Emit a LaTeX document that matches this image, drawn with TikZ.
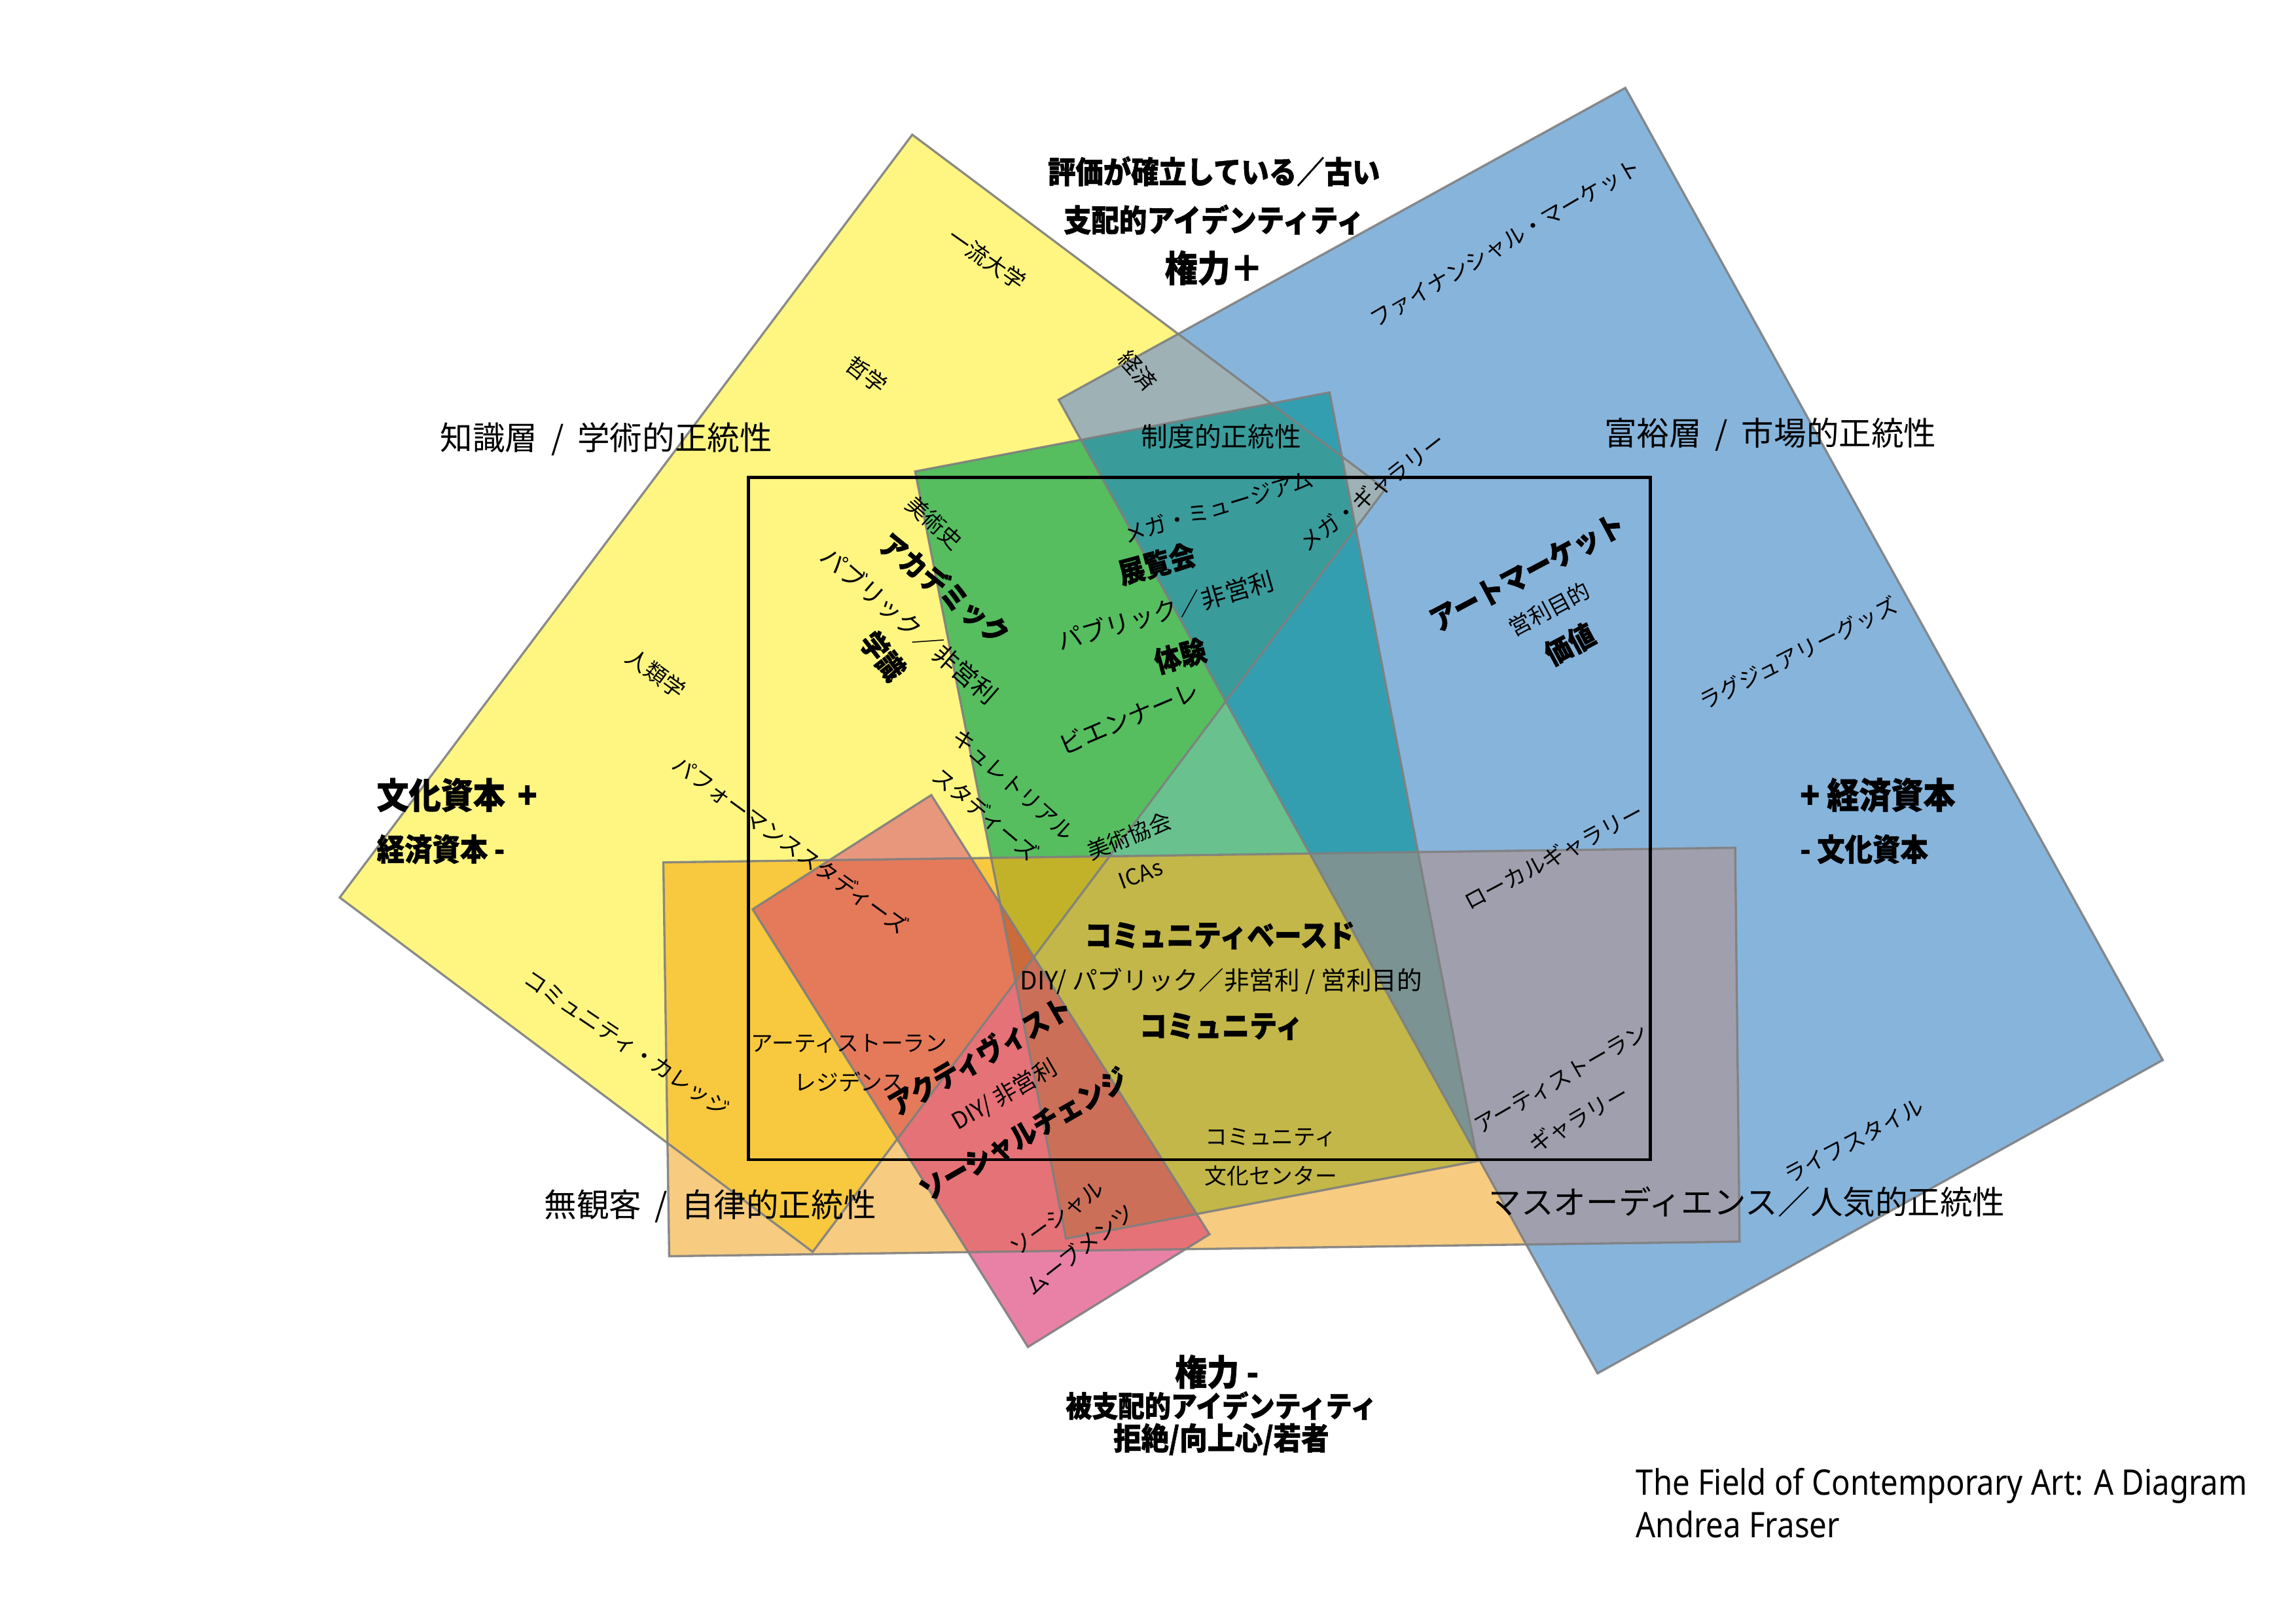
\documentclass[tikz,border=0pt]{standalone}
\usepackage{fontspec}
\setmainfont{Noto Sans CJK JP}
\newfontfamily\heavy[BoldFeatures={FakeBold=1,FakeStretch=0.9}]{Noto Sans CJK JP}
\newfontfamily\latinc[FakeStretch=0.88]{Noto Sans}
\newcommand\fz[1]{\fontsize{#1pt}{#1pt}\selectfont}
\newcommand\sls{\hspace{0.42em}/\hspace{0.42em}}
\definecolor{cY}{HTML}{FFF682}
\definecolor{cB}{HTML}{87B4DB}
\definecolor{cG}{HTML}{69C28E}
\definecolor{cO}{HTML}{F7CB80}
\definecolor{cR}{HTML}{E981A6}
\definecolor{cYB}{HTML}{9EB1B4}
\definecolor{cYG}{HTML}{56BE5F}
\definecolor{cYO}{HTML}{F8C93F}
\definecolor{cYR}{HTML}{E8977C}
\definecolor{cGB}{HTML}{349EB1}
\definecolor{cOG}{HTML}{C2B748}
\definecolor{cOR}{HTML}{E57276}
\definecolor{cOB}{HTML}{A09FAD}
\definecolor{cYGB}{HTML}{3A9B9B}
\definecolor{cOGY}{HTML}{C1B22A}
\definecolor{cYOR}{HTML}{E47A5A}
\definecolor{cOGB}{HTML}{7C9393}
\definecolor{cORG}{HTML}{CC6F58}
\definecolor{cORGY}{HTML}{CB6A3A}
\definecolor{edgec}{HTML}{7F7F7F}
\begin{document}
\begin{tikzpicture}[x=0.022372cm,y=-0.022372cm,
  edge/.style={draw=edgec,line width=0.95pt,draw opacity=0.9,line join=miter},
  lab/.style={inner sep=0pt,font=\fz{9.6}},
  labm/.style={inner sep=0pt,font=\fz{10.8}},
  bl/.style={inner sep=0pt,font=\heavy\bfseries\fz{12.6}},
  corner/.style={inner sep=0pt,font=\fz{14.1}},
  head/.style={inner sep=0pt,font=\heavy\bfseries\fz{13.4}},
  axisb/.style={inner sep=0pt,font=\heavy\bfseries\fz{15.5}},
  axiss/.style={inner sep=0pt,font=\heavy\bfseries\fz{13.4}}]
\useasboundingbox (0,0) rectangle (1568,1108.5);
% vertices
\coordinate (y1) at (623,92);   \coordinate (y2) at (946,334);
\coordinate (y3) at (555,855);  \coordinate (y4) at (232,613);
\coordinate (b1) at (1110,60);  \coordinate (b2) at (1477,724);
\coordinate (b3) at (1091,938); \coordinate (b4) at (723,273);
\coordinate (g1) at (625,322);  \coordinate (g2) at (908,268);
\coordinate (g3) at (1009,793); \coordinate (g4) at (728,846);
\coordinate (o1) at (453,589);  \coordinate (o2) at (1185,579);
\coordinate (o3) at (1188,848); \coordinate (o4) at (457,858);
\coordinate (r1) at (636,543);  \coordinate (r2) at (826,843);
\coordinate (r3) at (702,920);  \coordinate (r4) at (514,621);
\coordinate (f1) at (511,326);  \coordinate (f2) at (1127,792);
\def\PY{(y1) -- (y2) -- (y3) -- (y4) -- cycle}
\def\PB{(b1) -- (b2) -- (b3) -- (b4) -- cycle}
\def\PG{(g1) -- (g2) -- (g3) -- (g4) -- cycle}
\def\PO{(o1) -- (o2) -- (o3) -- (o4) -- cycle}
\def\PR{(r1) -- (r2) -- (r3) -- (r4) -- cycle}
% single regions
\fill[cY] \PY; \fill[cB] \PB; \fill[cG] \PG; \fill[cO] \PO; \fill[cR] \PR;
% pairs
\begin{scope}\clip \PY; \fill[cYB] \PB; \fill[cYG] \PG; \fill[cYO] \PO; \fill[cYR] \PR;\end{scope}
\begin{scope}\clip \PG; \fill[cGB] \PB; \fill[cOG] \PO; \fill[cORG] \PR;\end{scope}
\begin{scope}\clip \PO; \fill[cOB] \PB; \fill[cOR] \PR;\end{scope}
% triples
\begin{scope}\clip \PY; \clip \PG; \fill[cYGB] \PB; \fill[cOGY] \PO;\end{scope}
\begin{scope}\clip \PY; \clip \PO; \fill[cYOR] \PR;\end{scope}
\begin{scope}\clip \PO; \clip \PG; \fill[cOGB] \PB; \fill[cORG] \PR;\end{scope}
% quad
\begin{scope}\clip \PY; \clip \PO; \clip \PG; \fill[cORGY] \PR;\end{scope}
% outlines
\draw[edge] \PY; \draw[edge] \PB; \draw[edge] \PO; \draw[edge] \PG; \draw[edge] \PR;
\draw[black,line width=1.3pt] (f1) rectangle (f2);

% ---- outer labels
\node[head] (t1) at (829,117) {評価が確立している／古い};
\node[head] (t2) at (829,150) {支配的アイデンティティ};
\node[inner sep=0pt,font=\heavy\bfseries\fz{15.8}] (t3) at (829,183) {権力＋};
\node[inner sep=0pt,font=\heavy\bfseries\fz{15.5}] (d1) at (831,937) {権力 -};
\node[inner sep=0pt,font=\heavy\bfseries\fz{12.7}] (d2) at (834,960) {被支配的アイデンティティ};
\node[head] (d3) at (834,983) {拒絶/向上心/若者};
\node[corner] (l1) at (414,300) {知識層\sls 学術的正統性};
\node[axisb,anchor=west] (l2) at (257,543) {文化資本\hspace{0.35em}+};
\node[axiss,anchor=west] (l3) at (257,580) {経済資本 -};
\node[corner] (l4) at (485,824) {無観客\sls 自律的正統性};
\node[corner] (r1l) at (1209,297) {富裕層\sls 市場的正統性};
\node[axisb,anchor=west] (r2l) at (1229,543) {+ 経済資本};
\node[axiss,anchor=west] (r3l) at (1229,580) {- 文化資本};
\node[inner sep=0pt,font=\fz{14.1}] (r4l) at (1193,821) {マスオーディエンス／人気的正統性};
\node[inner sep=0pt,anchor=west,font=\latinc\fz{15.3}] (ti1) at (1117,1015) {The Field of Contemporary Art: A Diagram};
\node[inner sep=0pt,anchor=west,font=\latinc\fz{15.3}] (ti2) at (1117,1041) {Andrea Fraser};

% ---- yellow
\node[lab,rotate=-35] (a1) at (674,177) {一流大学};
\node[lab,rotate=-38] (a2) at (592,256) {哲学};
\node[lab,rotate=-36] (a3) at (448,460) {人類学};
\node[lab,rotate=-42] (a4) at (638,357) {美術史};
\node[bl,rotate=-39] (a5) at (645,402) {アカデミック};
\node[labm,rotate=-41] (a6) at (621,427) {パブリック／非営利};
\node[bl,rotate=-52] (a7) at (603,448) {学識};
\node[lab,rotate=-36] (a8) at (540,577) {パフォーマンススタディーズ};
\node[lab,rotate=-34] (a9) at (428,713) {コミュニティ・カレッジ};
\node[lab,rotate=-42] (a10) at (692,536) {キュレトリアル};
\node[lab,rotate=-40] (a11) at (673,556) {スタディーズ};

% ---- green
\node[inner sep=0pt,font=\fz{11.6}] (g5) at (834,298) {制度的正統性};
\node[lab,rotate=17] (g6) at (832,346) {メガ・ミュージアム};
\node[lab,rotate=38] (g7) at (937,336) {メガ・ギャラリー};
\node[bl,rotate=15] (g8) at (790,385) {展覧会};
\node[labm,rotate=16] (g9) at (796,417) {パブリック／非営利};
\node[bl,rotate=15] (g10) at (806,448) {体験};
\node[labm,rotate=23] (g11) at (771,490) {ビエンナーレ};
\node[lab,rotate=22] (g12) at (771,571) {美術協会};
\node[lab,rotate=20] (g13) at (779,597) {ICAs};

% ---- olive
\node[inner sep=0pt,font=\heavy\bfseries\fz{13.2}] (c1) at (833,639) {コミュニティベースド};
\node[inner sep=0pt,font=\fz{11}] (c2) at (834,670) {DIY/ パブリック／非営利 / 営利目的};
\node[inner sep=0pt,font=\heavy\bfseries\fz{13.3}] (c3) at (834,701) {コミュニティ};
\node[lab] (c4) at (868,777) {コミュニティ};
\node[lab] (c5) at (868,803) {文化センター};

% ---- orange / red
\node[lab] (e1) at (580,713) {アーティストーラン};
\node[lab] (e2) at (580,739) {レジデンス};
\node[bl,rotate=30] (e3) at (669,721) {アクティヴィスト};
\node[inner sep=0pt,font=\fz{10},rotate=30] (e4) at (686,748) {DIY/ 非営利};
\node[bl,rotate=30] (e5) at (699,775) {ソーシャルチェンジ};
\node[lab,rotate=36] (e6) at (722,832) {ソーシャル};
\node[lab,rotate=38] (e7) at (737,853) {ムーブメンツ};

% ---- blue
\node[lab,rotate=30.5] (h1) at (1028,166) {ファイナンシャル・マーケット};
\node[lab,rotate=-48] (h2) at (777,253) {経済};
\node[inner sep=0pt,font=\heavy\bfseries\fz{13.1},rotate=28] (h3) at (1043,391) {アートマーケット};
\node[lab,rotate=28] (h4) at (1058,416) {営利目的};
\node[bl,rotate=28] (h5) at (1072,440) {価値};
\node[lab,rotate=27] (h6) at (1228,446) {ラグジュアリーグッズ};
\node[lab,rotate=28] (h7) at (1061,585) {ローカルギャラリー};
\node[lab,rotate=30] (h8) at (1066,737) {アーティストーラン};
\node[lab,rotate=30] (h9) at (1078,764) {ギャラリー};
\node[lab,rotate=28] (h10) at (1266,779) {ライフスタイル};
\end{tikzpicture}
\end{document}
